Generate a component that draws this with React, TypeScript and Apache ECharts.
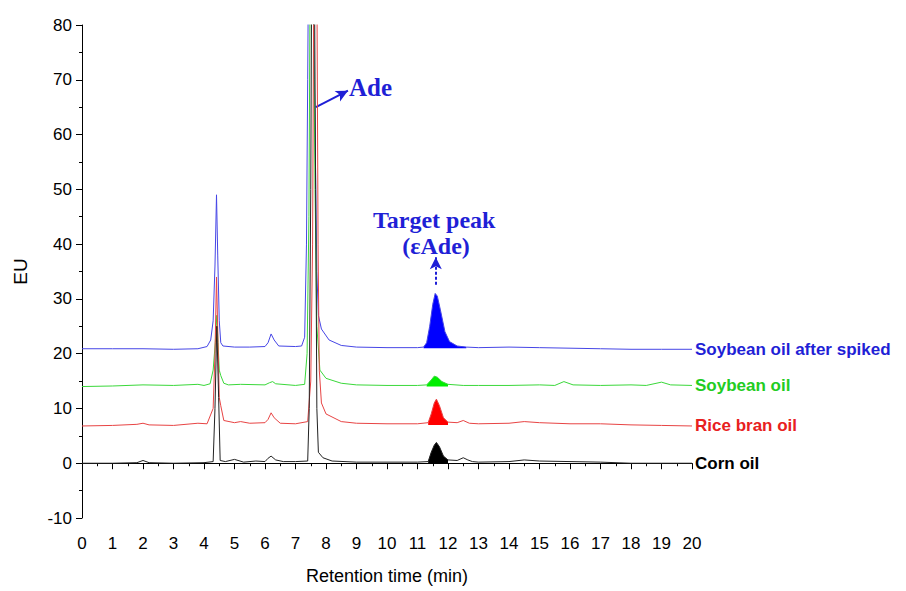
import React, { useEffect, useRef } from "react";
import * as echarts from "echarts";

const xTicks = { min: 0, max: 20, interval: 1 };
const yTicks = { min: -10, max: 80, interval: 10 };

const seriesNames = ["Soybean oil after spiked", "Soybean oil", "Rice bran oil", "Corn oil"];
const baselines = [21, 14, 7, 0];
const lineColors = ["#4646e6", "#3ad83a", "#e84444", "#222222"];
const fillColors = ["#0000ff", "#00ee00", "#ff0000", "#000000"];
const labelColors = ["#1f1fd6", "#22cc22", "#e82020", "#000000"];
const peakRanges = [[11.2, 12.6], [11.3, 12.0], [11.35, 12.0], [11.35, 12.05]];

const soybeanSpiked: number[][] = [
  [0, 20.9], [1, 20.9], [2, 20.9], [3, 20.8], [3.8, 20.9], [4.1, 21.3], [4.22, 22.5], [4.3, 26], [4.36, 36],
  [4.41, 49], [4.45, 38], [4.5, 26], [4.55, 22], [4.62, 21.4], [5, 21.2], [5.5, 21.2], [6, 21.3], [6.1, 22],
  [6.2, 23.6], [6.3, 22.5], [6.45, 21.4], [7, 21.3], [7.2, 21.4], [7.3, 23], [7.36, 40], [7.4, 70], [7.43, 95],
  [7.55, 95], [7.62, 70], [7.7, 35], [7.75, 27], [7.85, 24.5], [8.1, 22.5], [8.5, 21.5], [9, 21.2], [10, 21.1],
  [11, 21.1], [11.2, 21.2], [11.3, 22], [11.4, 25], [11.5, 29], [11.58, 31], [11.65, 30.5], [11.75, 28],
  [11.9, 24], [12.05, 22.2], [12.3, 21.4], [12.6, 21.2], [13, 21.1], [14, 21.2], [15, 21.1], [16, 21],
  [17, 20.9], [18, 20.8], [19, 20.8], [20, 20.8],
];

const soybean: number[][] = [
  [0, 14], [1, 14.1], [2, 14.3], [3, 14.2], [3.8, 14.4], [4.0, 14.2], [4.2, 14.5], [4.3, 17], [4.37, 22],
  [4.42, 27], [4.46, 22], [4.5, 17], [4.55, 16], [4.65, 14.6], [4.8, 14.3], [5.2, 14.4], [6, 14.3], [6.15, 14.7],
  [6.25, 14.9], [6.35, 14.5], [7, 14.2], [7.3, 14.4], [7.38, 20], [7.44, 45], [7.48, 90], [7.58, 90],
  [7.64, 50], [7.7, 25], [7.8, 17], [8, 15.5], [8.5, 14.6], [9, 14.3], [10, 14.2], [11, 14.2], [11.3, 14.3],
  [11.45, 15.2], [11.55, 15.9], [11.65, 15.7], [11.8, 14.9], [12, 14.4], [12.5, 14.2], [13, 14.2], [14, 14.2],
  [15, 14.3], [15.5, 14.2], [15.8, 14.9], [16.1, 14.3], [17, 14.2], [18, 14.3], [18.5, 14.2], [19, 14.8],
  [19.3, 14.3], [20, 14.2],
];

const riceBran: number[][] = [
  [0, 6.8], [1, 6.9], [1.8, 7.1], [2, 7.3], [2.2, 7.0], [3, 6.9], [3.8, 7.3], [4.1, 7.2], [4.3, 10], [4.36, 20],
  [4.41, 34], [4.46, 22], [4.5, 12], [4.55, 10.5], [4.65, 7.8], [5, 7.4], [5.2, 7.6], [5.5, 7.3], [6, 7.4],
  [6.1, 8], [6.2, 9.2], [6.3, 8.3], [6.5, 7.3], [7, 7.2], [7.4, 7.6], [7.5, 15], [7.56, 40], [7.6, 90],
  [7.7, 90], [7.74, 40], [7.78, 17], [7.85, 11], [8, 9], [8.5, 7.6], [9, 7.3], [10, 7.2], [11, 7.2], [11.35, 7.4],
  [11.45, 9], [11.55, 11], [11.62, 11.7], [11.72, 10.5], [11.85, 8.3], [12, 7.5], [12.3, 7.4], [12.5, 7.8],
  [12.7, 7.3], [13, 7.2], [14, 7.3], [14.5, 7.6], [15, 7.4], [16, 7.2], [17, 7.2], [18, 7.0], [19, 6.9], [20, 6.8],
];

const corn: number[][] = [
  [0, 0], [1, 0], [1.8, 0.1], [2, 0.5], [2.2, 0.1], [3, 0], [4, 0.1], [4.3, 0.3], [4.36, 10], [4.42, 25],
  [4.48, 12], [4.53, 0.5], [4.7, 0.3], [5, 0.7], [5.3, 0.2], [5.7, 0.4], [6, 0.3], [6.1, 0.9], [6.2, 1.3],
  [6.35, 0.6], [6.6, 0.3], [7, 0.3], [7.4, 0.4], [7.45, 10], [7.5, 50], [7.53, 90], [7.62, 90], [7.66, 50],
  [7.7, 10], [7.75, 2], [7.9, 1], [8.2, 0.4], [9, 0.2], [10, 0.2], [11, 0.2], [11.35, 0.3], [11.45, 2],
  [11.55, 3.3], [11.62, 3.8], [11.72, 3], [11.85, 1.3], [12, 0.6], [12.3, 0.5], [12.5, 1.0], [12.65, 0.6],
  [12.8, 0.3], [13, 0.2], [14, 0.3], [14.5, 0.6], [15, 0.4], [16, 0.3], [17, 0.2], [18, 0], [19, 0], [20, 0],
];

const allData = [soybeanSpiked, soybean, riceBran, corn];

const adeArrow = [[7.67, 65], [8.72, 68]];
const targetArrow = [[11.6, 32.6], [11.6, 37.6]];

const SANS = "Liberation Sans, Arial, sans-serif";
const SERIF = "'Liberation Serif', 'Times New Roman', serif";

export default function App() {
  const ref = useRef<HTMLDivElement>(null);
  useEffect(() => {
    if (!ref.current) return;
    const chart = echarts.init(ref.current, null, { renderer: "svg" });
    const series: any[] = [];
    allData.forEach((d, i) => {
      const [a, b] = peakRanges[i];
      series.push({
        type: "line",
        name: seriesNames[i] + " peak",
        data: d.filter((p) => p[0] >= a && p[0] <= b),
        symbol: "none",
        silent: true,
        lineStyle: { width: 0 },
        areaStyle: { origin: baselines[i], color: fillColors[i], opacity: 1 },
        z: 1,
      });
    });
    allData.forEach((d, i) => {
      const s: any = {
        type: "line",
        name: seriesNames[i],
        data: d,
        symbol: "none",
        lineStyle: { width: 1, color: lineColors[i] },
        z: 3 + i,
        endLabel: {
          show: true,
          formatter: seriesNames[i],
          color: labelColors[i],
          fontWeight: "bold",
          fontSize: 17,
          fontFamily: SANS,
          distance: 3,
        },
      };
      if (i === 0) {
        s.markLine = {
          silent: true,
          symbol: ["none", "arrow"],
          symbolSize: [9, 12],
          label: { show: false },
          data: [
            [
              { coord: adeArrow[0], lineStyle: { type: "solid", width: 2, color: "#1f1fd6" } },
              { coord: adeArrow[1] },
            ],
            [
              { coord: targetArrow[0], lineStyle: { type: [3, 2], width: 2, color: "#1f1fd6" } },
              { coord: targetArrow[1] },
            ],
          ],
        };
      }
      series.push(s);
    });
    chart.setOption({
      animation: false,
      backgroundColor: "#ffffff",
      grid: { left: 82, right: 214, top: 25, bottom: 73, containLabel: false },
      xAxis: {
        type: "value",
        min: xTicks.min,
        max: xTicks.max,
        interval: xTicks.interval,
        name: "Retention time (min)",
        nameLocation: "middle",
        nameGap: 49,
        nameTextStyle: { fontSize: 18, color: "#000", fontFamily: SANS },
        axisLine: { lineStyle: { color: "#000", width: 1 } },
        axisTick: { length: 6, lineStyle: { color: "#000" } },
        minorTick: { show: true, splitNumber: 2, length: 3, lineStyle: { color: "#000" } },
        axisLabel: { fontSize: 17, color: "#000", margin: 17, fontFamily: SANS },
        splitLine: { show: false },
      },
      yAxis: {
        type: "value",
        min: yTicks.min,
        max: yTicks.max,
        interval: yTicks.interval,
        name: "EU",
        nameLocation: "middle",
        nameGap: 52,
        nameTextStyle: { fontSize: 19, color: "#000", fontFamily: SANS },
        axisLine: { show: true, lineStyle: { color: "#000", width: 1 } },
        axisTick: { show: true, length: 6, lineStyle: { color: "#000" } },
        minorTick: { show: true, splitNumber: 2, length: 3, lineStyle: { color: "#000" } },
        axisLabel: { fontSize: 17, color: "#000", margin: 10, fontFamily: SANS },
        splitLine: { show: false },
      },
      graphic: [
        {
          type: "text",
          left: 349,
          top: 75,
          style: { text: "Ade", fill: "#1f1fd6", font: "bold 25px " + SERIF },
        },
        {
          type: "text",
          left: 373,
          top: 208,
          style: { text: "Target peak", fill: "#1f1fd6", font: "bold 24px " + SERIF },
        },
        {
          type: "text",
          x: 436,
          y: 234,
          style: { text: "(εAde)", fill: "#1f1fd6", font: "bold 24px " + SERIF, textAlign: "center" },
        },
      ],
      series,
    });
    return () => chart.dispose();
  }, []);
  return (
    <div
      ref={ref}
      style={{ position: "absolute", left: 0, top: 0, width: 906, height: 591 }}
    />
  );
}
